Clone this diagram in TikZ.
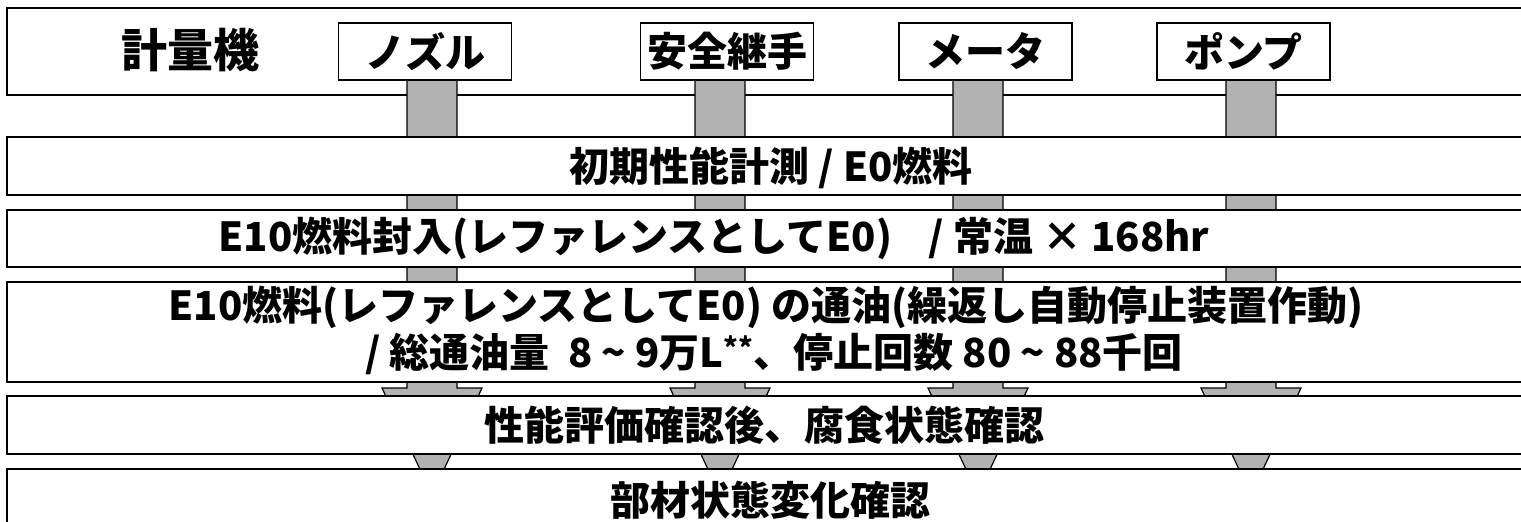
\documentclass[tikz,border=0pt]{standalone}
\usepackage{fontspec}
\newfontfamily\jp{Noto Sans CJK JP}
\definecolor{arrowgray}{RGB}{178,178,178}
\begin{document}
\begin{tikzpicture}[x=1pt,y=-1pt,
  band/.style={draw=black, line width=1.6pt, fill=white},
  part/.style={draw=black, line width=1.6pt, fill=white, minimum width=173pt,
    minimum height=57pt, inner sep=0pt, font=\jp\bfseries\fontsize{40}{44}\selectfont},
  lbl/.style={font=\jp\bfseries\fontsize{40}{44}\selectfont, inner sep=0pt},
  blockarrow/.style={fill=arrowgray, draw=black, line width=1.2pt, line join=miter}]
\useasboundingbox (0,0) rectangle (1521,522);
\clip (0,0) rectangle (1521,522);
% top band
\draw[band] (7,8) rectangle (1545,95);
\node[lbl, font=\jp\bfseries\fontsize{46}{50}\selectfont] (keiryoki) at (190,50) {計量機};
% block arrows
\foreach \c in {432,720,978,1251} {
  \draw[blockarrow] (\c-25,80) -- (\c+25,80) -- (\c+25,388) -- (\c+50,388)
     -- (\c,495) -- (\c-50,388) -- (\c-25,388) -- cycle;
}
% parts
\node[part] (nozzle) at (425,51.5) {ノズル};
\node[part] (joint)  at (727,51.5) {安全継手};
\node[part] (meter)  at (985.5,51.5) {メータ};
\node[part] (pump)   at (1243.5,51.5) {ポンプ};
% process bands
\draw[band] (7,137) rectangle (1545,195);
\node[lbl] (step1) at (771,168) {初期性能計測 / E0燃料};
\draw[band] (7,210) rectangle (1545,267);
\node[lbl] (step2) at (714,238) {E10燃料封入(レファレンスとしてE0)\ \ \ \ / 常温 × 168hr};
\draw[band] (7,282) rectangle (1545,382);
\node[lbl] (step3a) at (766,307) {E10燃料(レファレンスとしてE0) の通油(繰返し自動停止装置作動)};
\node[lbl] (step3b) at (774,354) {/ 総通油量\ \ 8 \textasciitilde\ 9万L\textsuperscript{**}、停止回数 80 \textasciitilde\ 88千回};
\draw[band] (7,396) rectangle (1545,454);
\node[lbl] (step4) at (764,425) {性能評価確認後、腐食状態確認};
\draw[band] (7,469) rectangle (1545,560);
\node[lbl] (step5) at (770,500) {部材状態変化確認};
\end{tikzpicture}
\end{document}
